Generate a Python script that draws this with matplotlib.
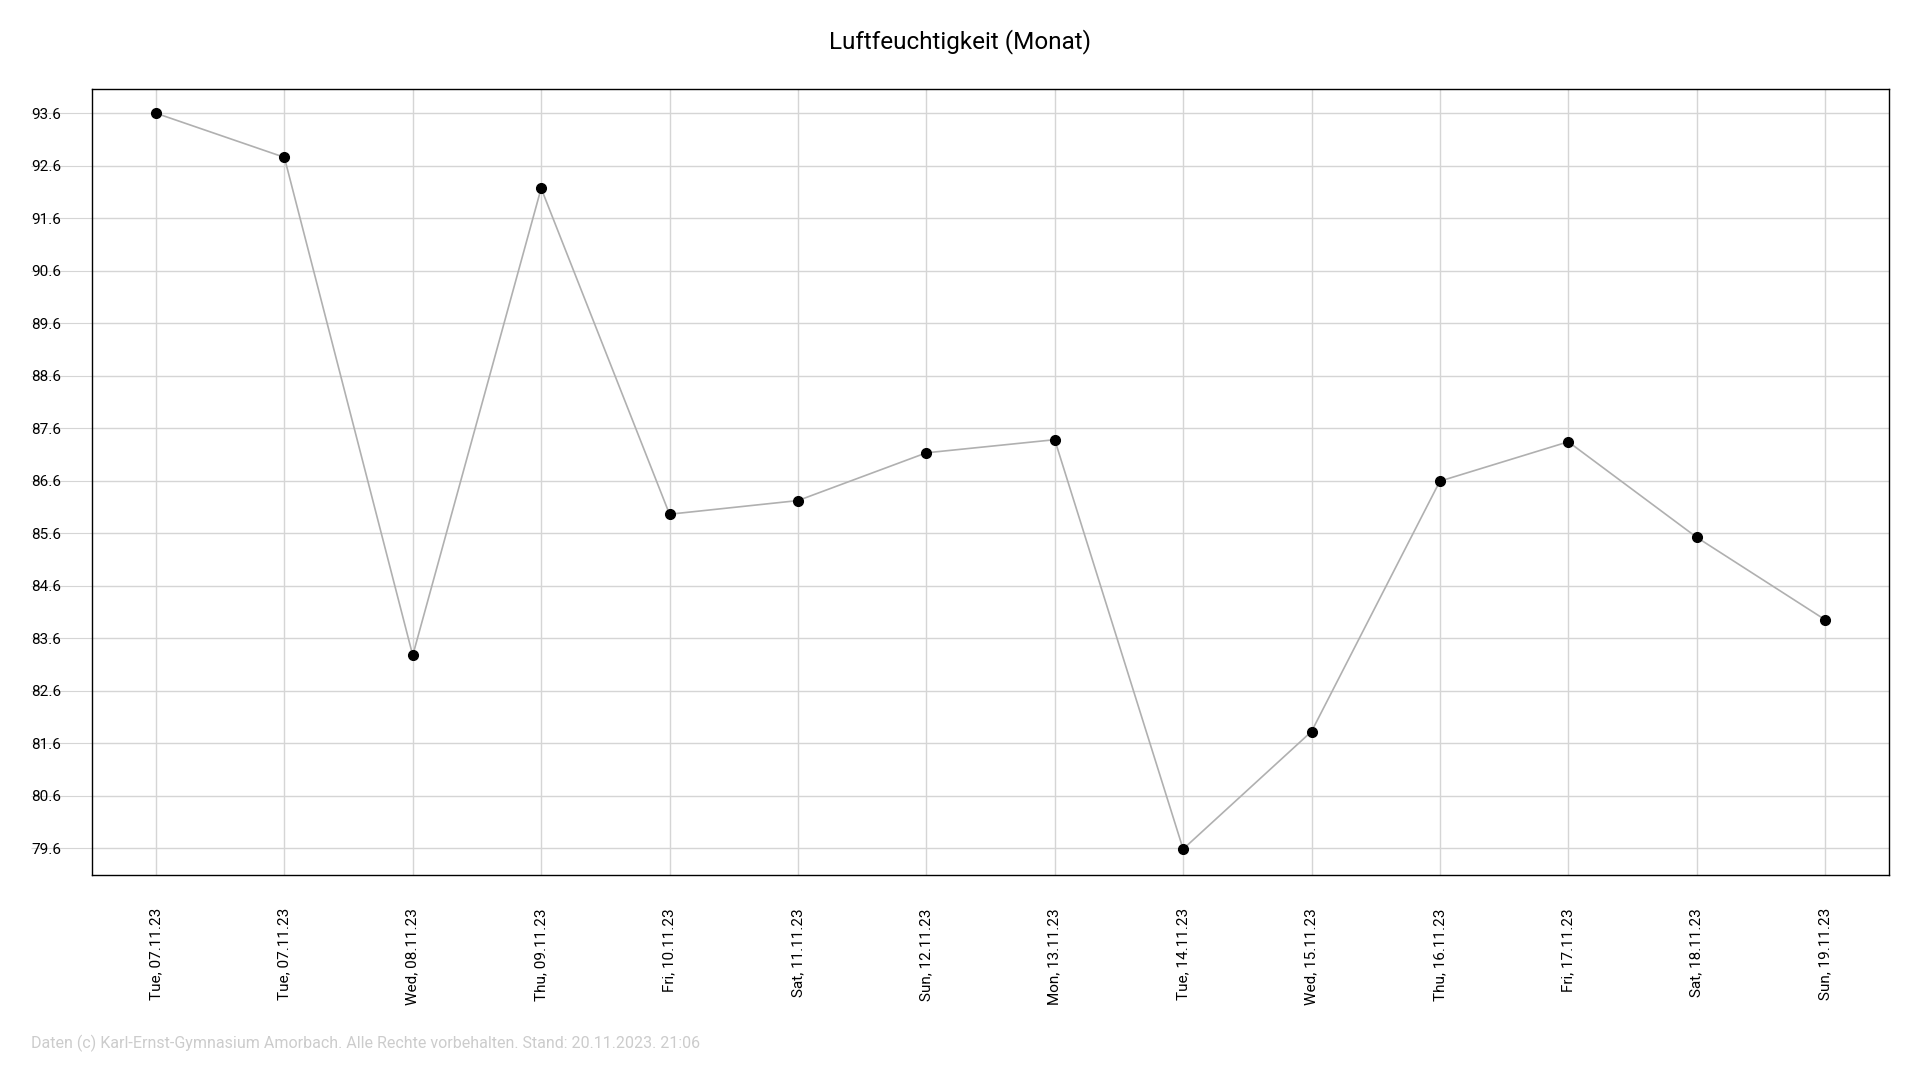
import matplotlib.pyplot as plt

plt.rcParams['font.family'] = ['Roboto', 'DejaVu Sans']

labels = ["Tue, 07.11.23", "Tue, 07.11.23", "Wed, 08.11.23", "Thu, 09.11.23",
          "Fri, 10.11.23", "Sat, 11.11.23", "Sun, 12.11.23", "Mon, 13.11.23",
          "Tue, 14.11.23", "Wed, 15.11.23", "Thu, 16.11.23", "Fri, 17.11.23",
          "Sat, 18.11.23", "Sun, 19.11.23"]
values = [93.6, 92.76, 83.27, 92.17, 85.96, 86.22, 87.13, 87.38,
          79.58, 81.82, 86.59, 87.34, 85.52, 83.95]
yticks = [79.6, 80.6, 81.6, 82.6, 83.6, 84.6, 85.6, 86.6, 87.6, 88.6,
          89.6, 90.6, 91.6, 92.6, 93.6]

fig = plt.figure(figsize=(19.2, 10.8), dpi=100)
ax = fig.add_axes([0.0478, 0.19, 0.9362, 0.728])
x = list(range(len(values)))
ax.plot(x, values, color='#b0b0b0', lw=1.2, zorder=2)
ax.plot(x, values, 'o', color='black', ms=7, zorder=3)

ax.set_xlim(-0.5, len(values) - 0.5)
ax.set_ylim(79.09, 94.07)
ax.set_yticks(yticks)
ax.set_yticklabels([f"{v:.1f}" for v in yticks])
ax.set_xticks(x)
ax.set_xticklabels(labels, rotation=90, va='top')
ax.grid(True, color='#d5d5d5', lw=1)
ax.set_axisbelow(True)
ax.tick_params(axis='y', length=44, color='#d5d5d5', pad=-22, labelsize=11)
ax.tick_params(axis='x', length=0, pad=24, labelsize=11)
for s in ax.spines.values():
    s.set_color('black')
    s.set_linewidth(1)

fig.text(0.5, 0.962, "Luftfeuchtigkeit (Monat)", ha='center', va='center', fontsize=17.5)
fig.text(0.016, 0.034, "Daten (c) Karl-Ernst-Gymnasium Amorbach. Alle Rechte vorbehalten. Stand: 20.11.2023. 21:06",
         ha='left', va='center', fontsize=11.5, color='#cccccc')

fig.savefig("out.png", dpi=100)
